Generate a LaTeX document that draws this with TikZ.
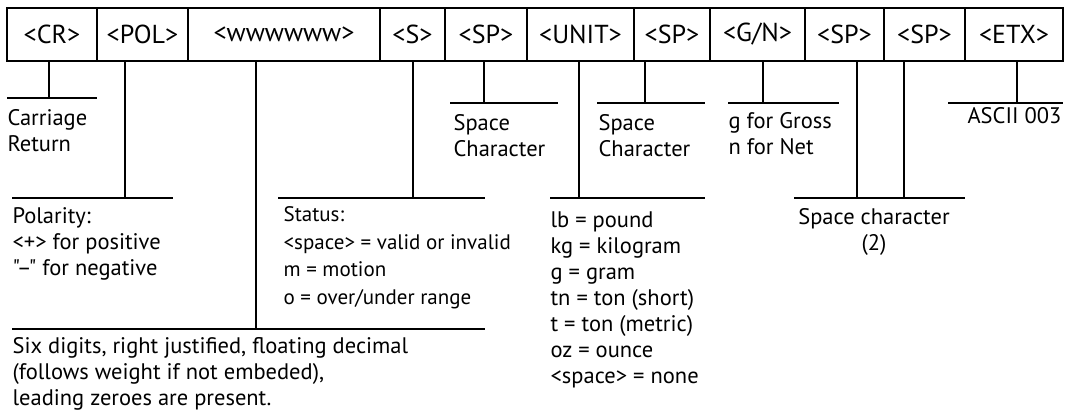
\documentclass[tikz,border=0pt]{standalone}
\usepackage{fontspec}
\setmainfont{PT Sans}[Ligatures=TeXOff]
\tikzset{
  cell/.style={draw, minimum height=53, inner sep=0pt, font=\fontsize{26}{30}\selectfont},
  note/.style={anchor=north west, inner sep=0pt, align=left, font=\fontsize{22.5}{26}\selectfont},
  smallnote/.style={note, font=\fontsize{21}{27.5}\selectfont},
}
\begin{document}
\begin{tikzpicture}[x=1pt, y=-1pt, line width=1.2pt]
  \useasboundingbox (0,0) rectangle (1065,416);
  % the record, one cell for each field
  \foreach \name/\xa/\xb/\txt in {cr/7/97/{<CR>}, pol/97/188/{<POL>}, wt/188/380/{<wwwwww>},
      st/380/445/{<S>}, spa/445/527/{<SP>}, unit/527/634/{<UNIT>}, spb/634/710/{<SP>},
      gn/710/805/{<G/N>}, spc/805/884/{<SP>}, spd/884/965/{<SP>}, etx/965/1063/{<ETX>}} {
    \node[cell, minimum width=\xb-\xa] (\name) at ({(\xa+\xb)/2},34.5) {\txt};
  }
  % the leads from the fields down to their notes
  \foreach \name/\x/\y in {cr/49/98, pol/125/198, wt/256/329, st/413/198, spa/484/103,
      unit/579/198, spb/645/103, gn/763/103, spc/857/198, spd/904/198, etx/1017/103} {
    \coordinate (\name-k) at (\x,\y);
    \draw (\name-k |- \name.south) -- (\name-k);
  }
  % the rules the notes hang from
  \foreach \xa/\xb/\y in {7/97/98, 12/173/198, 12/485/329, 278/485/198, 450/558/103,
      550/705/198, 597/705/103, 728/839/103, 794/965/198, 948/1063/103} {
    \draw (\xa,\y) -- (\xb,\y);
  }
  % the notes
  \node[note] (crn) at (7,109) {Carriage\\Return};
  \node[note] (poln) at (12,207) {Polarity:\\<+> for positive\\"–" for negative};
  \node[note] (wtn) at (12,337) {Six digits, right justified, floating decimal\\(follows weight if not embeded),\\leading zeroes are present.};
  \node[smallnote] (stn) at (283,206) {Status:\\<space> = valid or invalid\\m = motion\\o = over/under range};
  \node[note] (span) at (453,114) {Space\\Character};
  \node[note] (unitn) at (550,211) {lb = pound\\kg = kilogram\\g = gram\\tn = ton (short)\\t = ton (metric)\\oz = ounce\\<space> = none};
  \node[note] (spbn) at (598,114) {Space\\Character};
  \node[note] (gnn) at (728,112) {g for Gross\\n for Net};
  \node[note, anchor=north, align=center] (spcn) at (874,208) {Space character\\(2)};
  \node[note, anchor=north east] (etxn) at (1062,107) {ASCII 003};
\end{tikzpicture}
\end{document}
